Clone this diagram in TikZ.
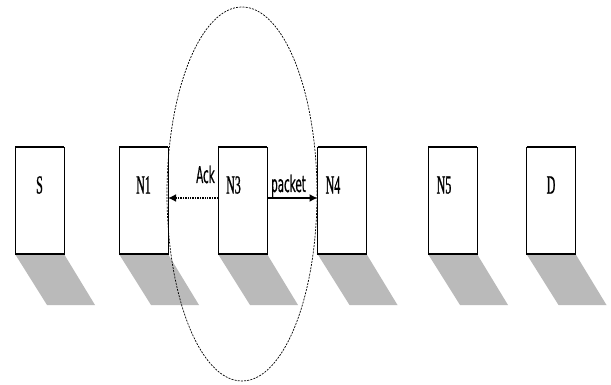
\documentclass[tikz,border=0pt]{standalone}
\usepackage{fontspec}
\newfontfamily\hostfont[FakeStretch=0.46,FakeBold=0.8]{Liberation Serif}
\newfontfamily\msgfont[FakeStretch=0.45,FakeBold=0.5]{DejaVu Sans}
\usetikzlibrary{arrows.meta,calc}

\begin{document}
\begin{tikzpicture}[x=1pt,y=-1pt,
  hostbox/.style={draw=black, line width=0.8pt, fill=white,
    minimum width=49pt, minimum height=107pt, inner sep=0pt, outer sep=0pt},
  hostlabel/.style={anchor=base, inner sep=0pt, font=\hostfont\fontsize{26}{26}\selectfont},
  msglabel/.style={inner sep=0pt, font=\msgfont\fontsize{23}{23}\selectfont},
  edgeline/.style={line width=1.8pt},
  dropshadow/.style={fill=black!27},
  ackline/.style={line width=2pt, dash pattern=on 1pt off 0.7pt,
    -{Latex[length=8pt,width=8pt]}},
  pktline/.style={line width=1.4pt, -{Latex[length=8pt,width=8pt]}},
  zone/.style={line width=0.7pt, dash pattern=on 2pt off 1.2pt}
]
\useasboundingbox (0,0) rectangle (611,385);

% hosts
\foreach \n/\x in {S/39.5, N1/143.5, N3/242.5, N4/342, N5/452.5, D/551} {
  \node[hostbox] (\n) at (\x,200.5) {};
}

% shadows below each host
\foreach \n in {S,N1,N3,N4,N5,D} {
  \fill[dropshadow] (\n.south west) -- (\n.south east)
    -- ($(\n.south east)+(31,51)$) -- ($(\n.south west)+(32,51)$) -- cycle;
}

% redraw host faces above the shadows, with heavier top and bottom edges
\foreach \n in {S,N1,N3,N4,N5,D} {
  \draw[line width=0.8pt, fill=white] (\n.south west) rectangle (\n.north east);
  \draw[edgeline] (\n.north west) -- (\n.north east);
  \draw[edgeline] (\n.south west) -- (\n.south east);
}

% host names
\node[hostlabel] (lS)  at ($(S.north)+(0,46.5)$) {S};
\node[hostlabel] (lN1) at ($(N1.north)+(0,46.5)$) {N1};
\node[hostlabel] (lN3) at ($(N3.north)+(-9,46.5)$) {N3};
\node[hostlabel] (lN4) at ($(N4.north)+(-9,46.5)$) {N4};
\node[hostlabel] (lN5) at ($(N5.north)+(-8.5,46.5)$) {N5};
\node[hostlabel] (lD)  at ($(D.north)+(0,46.5)$) {D};

% messages
\draw[ackline] ($(N3.west)+(0,-2.5)$) -- ($(N1.east)+(0,-2.5)$);
\draw[pktline] ($(N3.east)+(0,-2.5)$) -- ($(N4.west)+(0,-2.5)$);
\node[msglabel, anchor=base east] (ack) at ($(N3.west)+(-3,-17.5)$) {Ack};
\node[msglabel, anchor=base west] (pkt) at ($(N3.east)+(4,-8.5)$) {packet};

% transmission range of N3
\coordinate (zc) at (242,194);
\draw[zone] (zc) ellipse [x radius=75, y radius=187];
\end{tikzpicture}
\end{document}
